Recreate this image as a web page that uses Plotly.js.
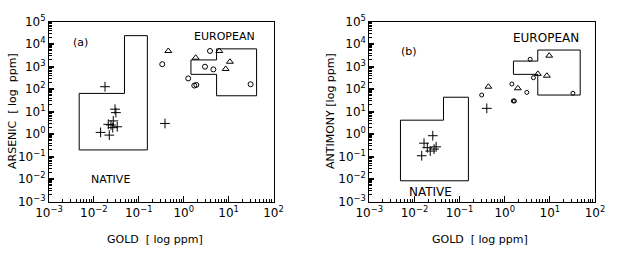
<!DOCTYPE html>
<html>
<head>
<meta charset="utf-8">
<script src="https://cdn.plot.ly/plotly-3.0.1.min.js"></script>
<style>html,body{margin:0;padding:0;background:#fff;}#chart{width:617px;height:260px;}</style>
</head>
<body>
<div id="chart"></div>
<script>
// ---- Panel (a): Gold vs Arsenic ----
const aNativeGold = [0.0177, 0.0295, 0.0309, 0.0270, 0.0209, 0.0240, 0.0331, 0.0263, 0.0141, 0.0220, 0.383];
const aNativeAs   = [129, 12.9, 9.1, 3.9, 2.75, 2.57, 2.14, 1.95, 1.20, 0.91, 3.0];
const aCircGold   = [0.333, 3.85, 2.98, 4.57, 1.26, 1.72, 1.91, 30.9];
const aCircAs     = [1290, 5000, 1000, 760, 302, 145, 155, 166];
const aTriGold    = [0.454, 1.85, 6.21, 10.7, 8.6];
const aTriAs      = [5000, 2510, 5000, 1660, 794];
const aNatBoxGold = [0.0047, 0.0047, 0.048, 0.048, 0.155, 0.155, 0.0047];
const aNatBoxAs   = [0.2, 65, 65, 24000, 24000, 0.2, 0.2];
const aEurBoxGold = [5.4, 5.4, 1.45, 1.45, 5.4, 5.4, 42, 42, 5.4];
const aEurBoxAs   = [51, 457, 457, 2000, 2000, 6200, 6200, 51, 51];

// ---- Panel (b): Gold vs Antimony ----
const bNativeGold = [0.0255, 0.0163, 0.0193, 0.0302, 0.0272, 0.0224, 0.0145, 0.401];
const bNativeSb   = [0.857, 0.398, 0.251, 0.275, 0.219, 0.178, 0.110, 14.1];
const bCircGold   = [3.66, 4.32, 32.4, 0.309, 1.44, 3.09, 1.55, 1.64];
const bCircSb     = [2140, 324, 66, 55, 170, 72, 30, 30];
const bTriGold    = [9.66, 5.42, 8.57, 0.435, 1.95];
const bTriSb      = [3090, 479, 398, 129, 110];
const bNatBoxGold = [0.0049, 0.0049, 0.044, 0.044, 0.157, 0.157, 0.0049];
const bNatBoxSb   = [0.0085, 4.2, 4.2, 44, 44, 0.0085, 0.0085];
const bEurBoxGold = [5.4, 5.4, 1.56, 1.56, 5.4, 5.4, 47, 47, 5.4];
const bEurBoxSb   = [55, 457, 457, 1780, 1780, 5500, 5500, 55, 55];

// ---- Ticks ----
const xTickVals = [0.001, 0.01, 0.1, 1, 10, 100];
const xTickText = ['10<sup>−3</sup>', '10<sup>−2</sup>', '10<sup>−1</sup>', '10<sup>0</sup>', '10<sup>1</sup>', '10<sup>2</sup>'];
const yTickVals = [0.001, 0.01, 0.1, 1, 10, 100, 1000, 10000, 100000];
const yTickText = ['10<sup>−3</sup>', '10<sup>−2</sup>', '10<sup>−1</sup>', '10<sup>0</sup>', '10<sup>1</sup>', '10<sup>2</sup>', '10<sup>3</sup>', '10<sup>4</sup>', '10<sup>5</sup>'];

const W = 617, H = 260;
const px = x => x / W, py = y => 1 - y / H;

function pts(x, y, sym, size, xa, ya) {
  return {x: x, y: y, xaxis: xa, yaxis: ya, type: 'scatter', mode: 'markers', showlegend: false,
    marker: {symbol: sym, size: size, color: 'black', line: {color: 'black', width: 1}}};
}
function poly(x, y, xa, ya) {
  return {x: x, y: y, xaxis: xa, yaxis: ya, type: 'scatter', mode: 'lines', showlegend: false,
    line: {color: 'black', width: 1}};
}

const data = [
  poly(aNatBoxGold, aNatBoxAs, 'x', 'y'),
  poly(aEurBoxGold, aEurBoxAs, 'x', 'y'),
  pts(aNativeGold, aNativeAs, 'cross-thin-open', 7, 'x', 'y'),
  pts(aCircGold, aCircAs, 'circle-open', 5, 'x', 'y'),
  pts(aTriGold, aTriAs, 'triangle-up-open', 6, 'x', 'y'),
  poly(bNatBoxGold, bNatBoxSb, 'x2', 'y2'),
  poly(bEurBoxGold, bEurBoxSb, 'x2', 'y2'),
  pts(bNativeGold, bNativeSb, 'cross-thin-open', 7, 'x2', 'y2'),
  pts(bCircGold, bCircSb, 'circle-open', 4, 'x2', 'y2'),
  pts(bTriGold, bTriSb, 'triangle-up-open', 6, 'x2', 'y2')
];

const font = {family: 'DejaVu Sans, Liberation Sans, sans-serif', size: 12, color: 'black'};
function xax(d, anchor) {
  return {type: 'log', range: [-3, 2], domain: d, anchor: anchor,
    tickmode: 'array', tickvals: xTickVals, ticktext: xTickText,
    ticks: 'inside', ticklen: 6, tickwidth: 1, tickcolor: 'black',
    minor: {ticks: 'inside', ticklen: 3, tickwidth: 1, tickcolor: 'black', dtick: 'D1', showgrid: false},
    showline: true, linecolor: 'black', linewidth: 1, mirror: true,
    showgrid: false, zeroline: false, tickfont: {family: font.family, size: 12, color: 'black'}};
}
function yax(anchor) {
  return {type: 'log', range: [-3, 5], domain: [py(201.7), py(21.7)], anchor: anchor,
    tickmode: 'array', tickvals: yTickVals, ticktext: yTickText,
    ticks: 'inside', ticklen: 5, tickwidth: 2, tickcolor: 'black',
    minor: {ticks: 'inside', ticklen: 3, tickwidth: 1, tickcolor: 'black', dtick: 'D1', showgrid: false},
    showline: true, linecolor: 'black', linewidth: 1, mirror: true,
    showgrid: false, zeroline: false, tickfont: {family: font.family, size: 12, color: 'black'}};
}

const ann = (x, y, text, size, opts) => Object.assign({xref: 'paper', yref: 'paper', x: px(x), y: py(y),
  text: text, showarrow: false, font: {family: font.family, size: size, color: 'black'},
  xanchor: 'left', yanchor: 'middle'}, opts || {});

const layout = {
  width: W, height: H, margin: {l: 0, r: 0, t: 0, b: 0},
  paper_bgcolor: 'white', plot_bgcolor: 'white', font: font, showlegend: false,
  xaxis: xax([px(49), px(273.5)], 'y'),
  yaxis: yax('x'),
  xaxis2: xax([px(369.3), px(595)], 'y2'),
  yaxis2: yax('x2'),
  annotations: [
    ann(71, 43, '(a)', 11),
    ann(192, 37, 'EUROPEAN', 11),
    ann(89, 179, 'NATIVE', 11),
    ann(399, 52, '(b)', 11),
    ann(511, 38, 'EUROPEAN', 12),
    ann(407, 192, 'NATIVE', 12),
    ann(12, 111, 'ARSENIC  [ log  ppm]', 11, {textangle: -90, xanchor: 'center'}),
    ann(330, 111, 'ANTIMONY [log ppm]', 11, {textangle: -90, xanchor: 'center'}),
    ann(155, 239, 'GOLD  [ log ppm]', 11, {xanchor: 'center'}),
    ann(480, 239, 'GOLD  [ log ppm]', 11, {xanchor: 'center'})
  ]
};

Plotly.newPlot('chart', data, layout, {staticPlot: true, displayModeBar: false});
</script>
</body>
</html>
